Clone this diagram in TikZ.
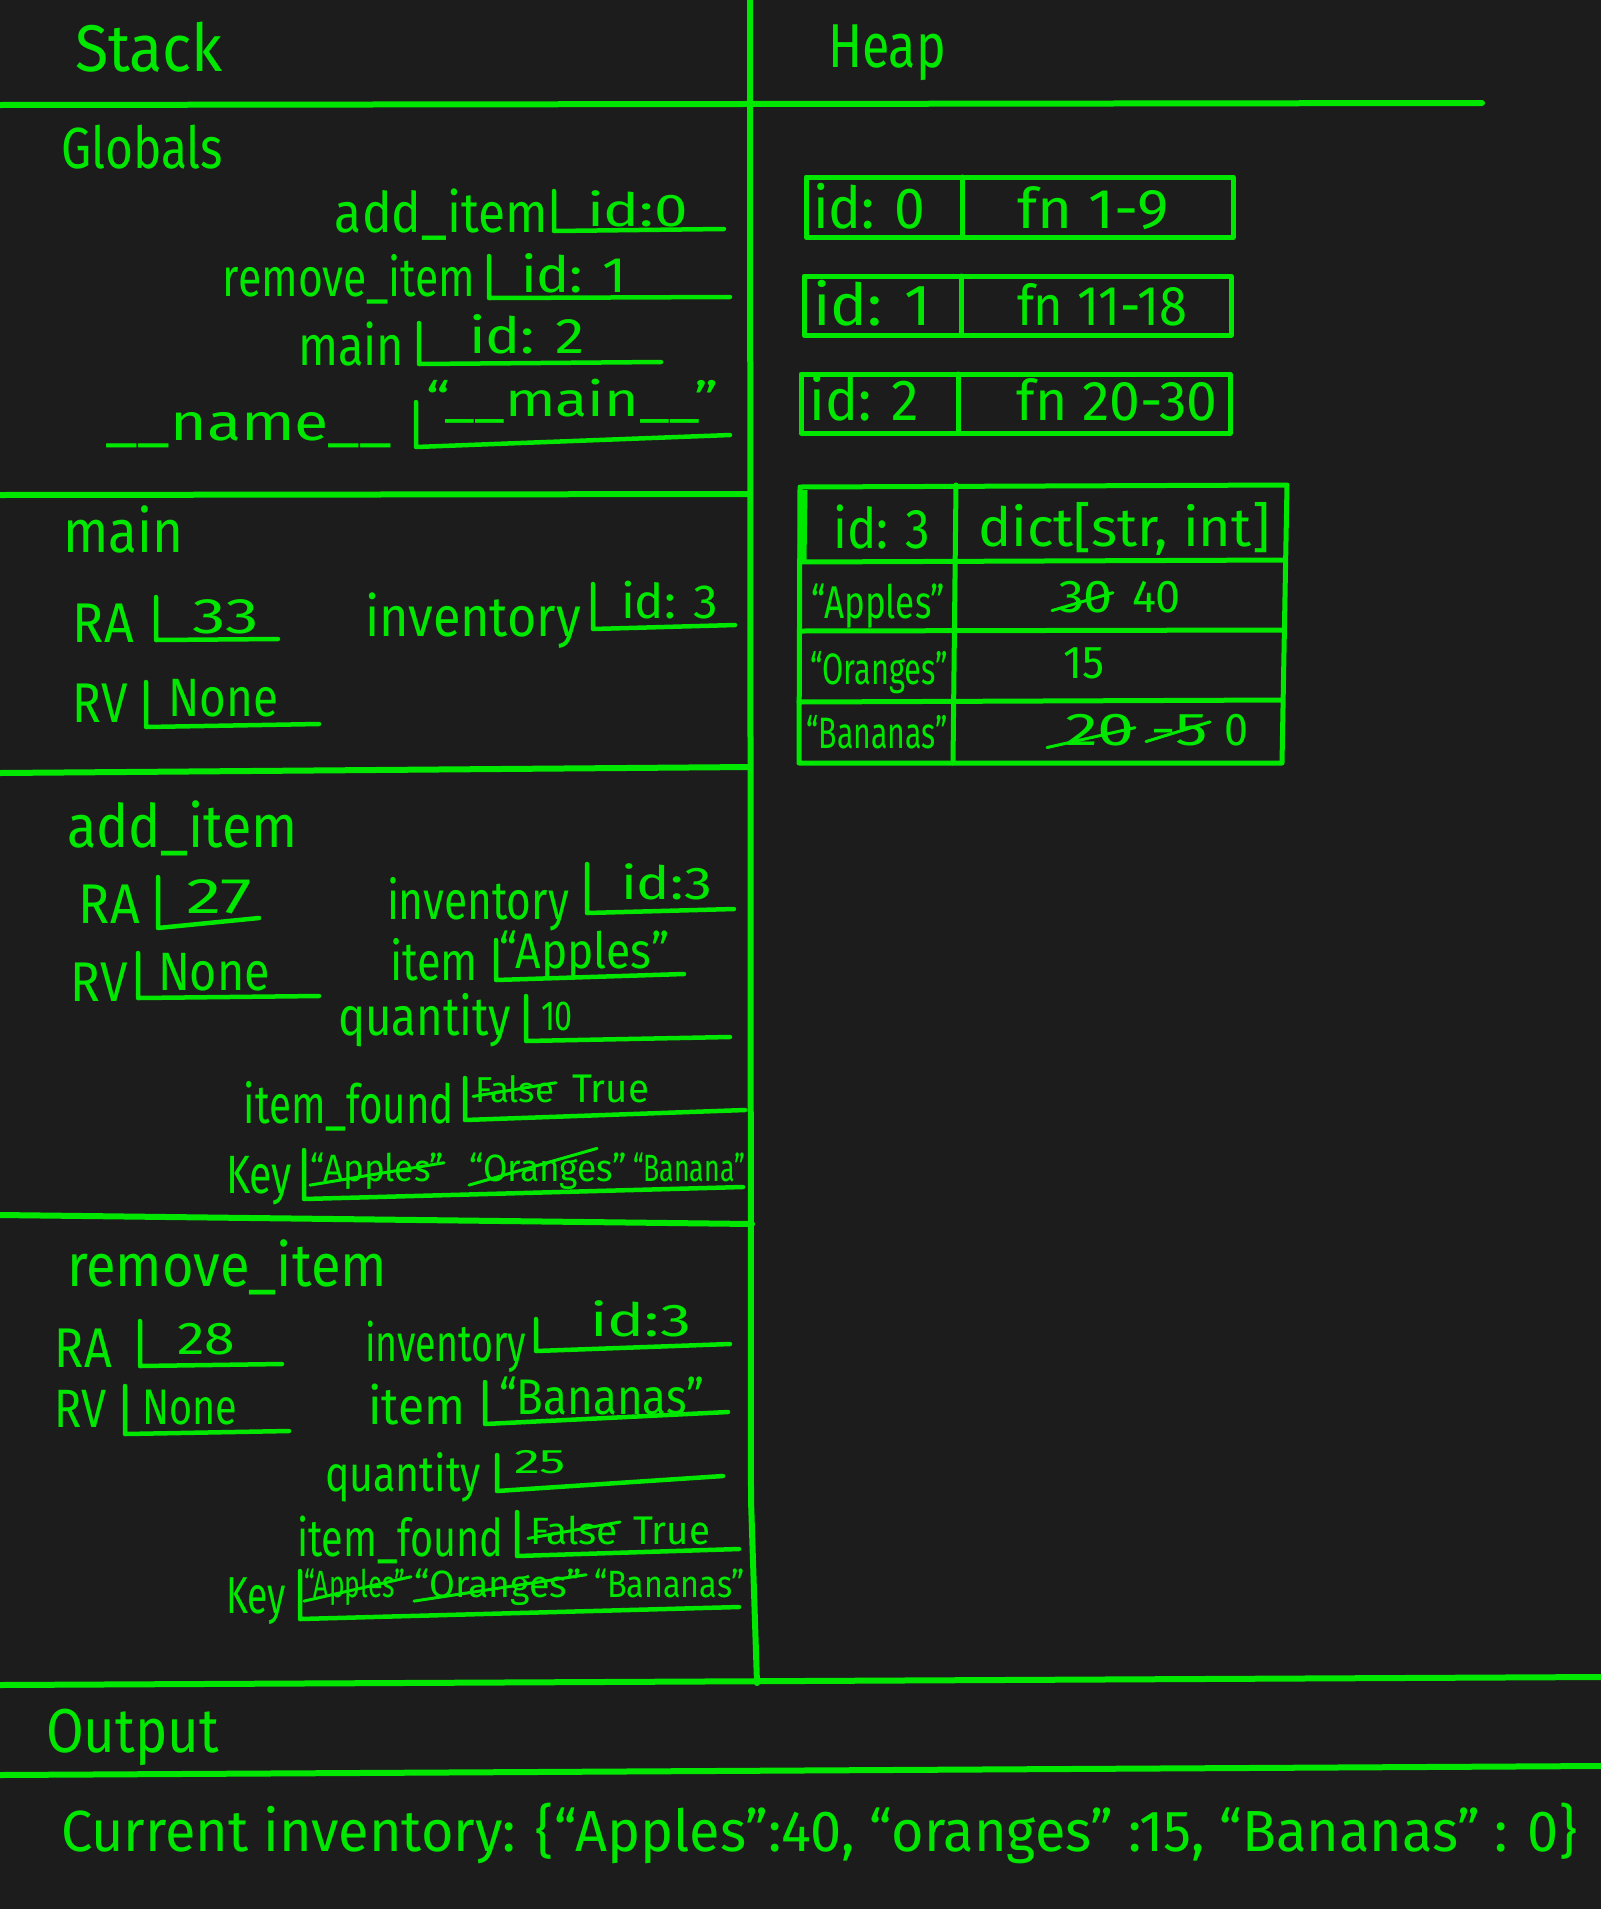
\documentclass[tikz,border=0pt]{standalone}
\usepackage{fontspec}
\setmainfont{Fira Sans}
\usepackage{graphicx}
\definecolor{hgreen}{RGB}{0,232,0}
\definecolor{bgc}{RGB}{28,28,28}
% text scaled to a target width (pt), font size (pt), text
\newcommand\hwt[3]{\resizebox{#1pt}{\height}{\fontsize{#2pt}{#2pt}\selectfont #3}}
\tikzset{
  txt/.style={inner sep=0pt, outer sep=0pt, text=hgreen},
  sect/.style={draw=hgreen, line width=6pt, line cap=round},
  slot/.style={draw=hgreen, line width=4.5pt, line cap=round, line join=round},
  cell/.style={draw=hgreen, line width=5pt, line join=round, line cap=round},
  strike/.style={draw=hgreen, line width=3pt, line cap=round},
  lab/.style={txt, anchor=base east},
  val/.style={txt, anchor=base west},
  ctr/.style={txt, anchor=base},
}
\begin{document}
\begin{tikzpicture}[x=1pt,y=-1pt]
\fill[bgc] (0,0) rectangle (1601,1909);
\useasboundingbox (0,0) rectangle (1601,1909);

% ---------- section lines ----------
\draw[sect] (0,105) -- (1482,103);
\draw[sect] (750,0) -- (751,1500) -- (757,1683);
\draw[sect] (0,495) -- (750,494);
\draw[sect] (0,773) -- (750,767);
\draw[sect] (0,1215) -- (752,1224);
\draw[sect] (0,1685) -- (1601,1677);
\draw[sect] (0,1775) -- (1601,1766);

% ---------- titles ----------
\node[val] (tStack) at (75,71) {\hwt{148}{66}{Stack}};
\node[val] (tHeap) at (828,67) {\hwt{118}{62}{Heap}};
\node[val] (tGlobals) at (61,168) {\hwt{162}{58}{Globals}};
\node[val] (tMain) at (63,552) {\hwt{120}{60}{main}};
\node[val] (tAdd) at (67,847) {\hwt{231}{60}{add\_item}};
\node[val] (tRemove) at (67,1286) {\hwt{320}{60}{remove\_item}};
\node[val] (tOutput) at (46,1752) {\hwt{173}{62}{Output}};

% ---------- Globals ----------
\node[lab] (gAddL) at (548,232) {\hwt{213}{56}{add\_item}};
\draw[slot] (554,191) -- (554,231) -- (724,229);
\node[val] (gAddV) at (587,226) {\hwt{101}{46}{id:0}};

\node[lab] (gRemL) at (475,296) {\hwt{252}{54}{remove\_item}};
\draw[slot] (489,256) -- (489,298) -- (730,297);
\node[val] (gRemV) at (521,292) {\hwt{106}{50}{id: 1}};

\node[lab] (gMainL) at (404,365) {\hwt{106}{56}{main}};
\draw[slot] (419,323) -- (419,364) -- (661,362);
\node[val] (gMainV) at (469,353) {\hwt{116}{50}{id: 2}};

\node[lab] (gNameL) at (392,440) {\hwt{286}{52}{\_\_name\_\_}};
\draw[slot] (416,402) -- (416,447) -- (730,435);
\node[val] (gNameV) at (426,416) {\hwt{292}{48}{“\_\_main\_\_”}};

% ---------- main frame ----------
\node[lab] (mRAL) at (134,642) {\hwt{61}{56}{RA}};
\draw[slot] (156,597) -- (156,640) -- (278,639);
\node[val] (mRAV) at (192,633) {\hwt{67}{50}{33}};

\node[lab] (mInvL) at (581,636) {\hwt{216}{56}{inventory}};
\draw[slot] (593,584) -- (593,629) -- (735,625);
\node[val] (mInvV) at (621,618) {\hwt{97}{48}{id: 3}};

\node[lab] (mRVL) at (128,722) {\hwt{55}{56}{RV}};
\draw[slot] (146,682) -- (146,727) -- (319,724);
\node[val] (mRVV) at (168,716) {\hwt{110}{54}{None}};

% ---------- add_item frame ----------
\node[lab] (aRAL) at (140,923) {\hwt{61}{56}{RA}};
\draw[slot] (158,877) -- (158,928) -- (259,918);
\node[val] (aRAV) at (186,913) {\hwt{66}{50}{27}};

\node[lab] (aRVL) at (128,1001) {\hwt{57}{56}{RV}};
\draw[slot] (138,953) -- (138,998) -- (319,996);
\node[val] (aRVV) at (158,990) {\hwt{112}{54}{None}};

\node[lab] (aInvL) at (569,919) {\hwt{182}{54}{inventory}};
\draw[slot] (587,864) -- (587,913) -- (734,909);
\node[val] (aInvV) at (621,899) {\hwt{91}{46}{id:3}};

\node[lab] (aItemL) at (478,980) {\hwt{88}{54}{item}};
\draw[slot] (496,940) -- (496,980) -- (684,974);
\node[val] (aItemV) at (499,968) {\hwt{170}{50}{“Apples”}};

\node[lab] (aQtyL) at (511,1035) {\hwt{173}{54}{quantity}};
\draw[slot] (526,996) -- (526,1041) -- (730,1037);
\node[val] (aQtyV) at (541,1030) {\hwt{32}{42}{10}};

\node[lab] (aFoundL) at (454,1123) {\hwt{210}{54}{item\_found}};
\draw[slot] (465,1078) -- (465,1120) -- (745,1110);
\node[val] (aFoundF) at (475,1102) {\hwt{79}{36}{False}};
\draw[strike] ([xshift=-2pt,yshift=6pt]aFoundF.south west) -- ([xshift=2pt,yshift=6pt]aFoundF.east);
\node[val] (aFoundT) at (572,1102) {\hwt{77}{40}{True}};

\node[lab] (aKeyL) at (292,1193) {\hwt{66}{54}{Key}};
\draw[slot] (304,1150) -- (304,1199) -- (743,1187);
\node[val] (aKey1) at (310,1181) {\hwt{134}{38}{“Apples”}};
\draw[strike] ([yshift=4pt]aKey1.south west) -- ([yshift=8pt]aKey1.east);
\node[val] (aKey2) at (469,1181) {\hwt{158}{38}{“Oranges”}};
\draw[strike] ([yshift=4pt]aKey2.south west) -- ([xshift=-30pt,yshift=4pt]aKey2.north east);
\node[val] (aKey3) at (633,1181) {\hwt{112}{38}{“Banana”}};

% ---------- remove_item frame ----------
\node[lab] (rRAL) at (112,1367) {\hwt{57}{56}{RA}};
\draw[slot] (140,1321) -- (140,1366) -- (282,1364);
\node[val] (rRAV) at (177,1354) {\hwt{58}{46}{28}};

\node[lab] (rRVL) at (107,1427) {\hwt{52}{54}{RV}};
\draw[slot] (125,1386) -- (125,1434) -- (289,1431);
\node[val] (rRVV) at (142,1424) {\hwt{95}{50}{None}};

\node[lab] (rInvL) at (526,1361) {\hwt{161}{52}{inventory}};
\draw[slot] (536,1319) -- (536,1351) -- (730,1344);
\node[val] (rInvV) at (590,1336) {\hwt{101}{46}{id:3}};

\node[lab] (rItemL) at (465,1424) {\hwt{97}{52}{item}};
\draw[slot] (485,1382) -- (485,1424) -- (728,1412);
\node[val] (rItemV) at (499,1414) {\hwt{205}{50}{“Bananas”}};

\node[lab] (rQtyL) at (481,1491) {\hwt{156}{50}{quantity}};
\draw[slot] (497,1455) -- (497,1491) -- (723,1476);
\node[val] (rQtyV) at (514,1473) {\hwt{52}{34}{25}};

\node[lab] (rFoundL) at (503,1556) {\hwt{206}{52}{item\_found}};
\draw[slot] (517,1512) -- (517,1556) -- (739,1549);
\node[val] (rFoundF) at (530,1544) {\hwt{88}{38}{False}};
\draw[strike] ([xshift=-2pt,yshift=6pt]rFoundF.south west) -- ([xshift=2pt,yshift=8pt]rFoundF.east);
\node[val] (rFoundT) at (633,1544) {\hwt{77}{40}{True}};

\node[lab] (rKeyL) at (286,1613) {\hwt{60}{52}{Key}};
\draw[slot] (300,1571) -- (300,1619) -- (739,1607);
\node[val] (rKey1) at (304,1597) {\hwt{101}{38}{“Apples”}};
\draw[strike] ([yshift=4pt]rKey1.south west) -- ([xshift=6pt,yshift=10pt]rKey1.east);
\node[val] (rKey2) at (414,1597) {\hwt{168}{38}{“Oranges”}};
\draw[strike] ([yshift=4pt]rKey2.south west) -- ([xshift=4pt,yshift=12pt]rKey2.east);
\node[val] (rKey3) at (594,1597) {\hwt{151}{38}{“Bananas”}};

% ---------- Heap: function objects ----------
\draw[cell] (806,177) rectangle (1233,237);
\draw[cell] (962,177) -- (962,237);
\node[ctr] (h0id) at (869,228) {\hwt{112}{58}{id: 0}};
\node[ctr] (h0fn) at (1093,228) {\hwt{152}{56}{fn 1-9}};

\draw[cell] (804,276) rectangle (1231,335);
\draw[cell] (961,276) -- (961,335);
\node[ctr] (h1id) at (872,325) {\hwt{118}{58}{id: 1}};
\node[ctr] (h1fn) at (1102,325) {\hwt{170}{56}{fn 11-18}};

\draw[cell] (801,374) rectangle (1230,433);
\draw[cell] (958,374) -- (958,433);
\node[ctr] (h2id) at (864,420) {\hwt{109}{58}{id: 2}};
\node[ctr] (h2fn) at (1117,420) {\hwt{201}{56}{fn 20-30}};

% ---------- Heap: dict ----------
\draw[cell] (800,487) -- (1287,485) -- (1282,763) -- (799,763) -- cycle;
\draw[cell] (800,562) -- (1285,560);
\draw[cell] (800,631) -- (1283,630);
\draw[cell] (799,702) -- (1282,700);
\draw[cell] (956,485) -- (953,763);
\draw[draw=hgreen, line width=9pt] (803,490) -- (802,562);

\node[ctr] (dId) at (882,548) {\hwt{97}{56}{id: 3}};
\node[ctr] (dType) at (1124,546) {\hwt{292}{54}{dict[str, int]}};

\node[ctr] (dK1) at (878,618) {\hwt{134}{46}{“Apples”}};
\node[val] (dV1a) at (1058,612) {\hwt{55}{46}{30}};
\draw[strike] ([xshift=-6pt,yshift=2pt]dV1a.south west) -- ([yshift=4pt]dV1a.east);
\node[val] (dV1b) at (1132,612) {\hwt{49}{46}{40}};

\node[ctr] (dK2) at (879,684) {\hwt{138}{44}{“Oranges”}};
\node[val] (dV2) at (1063,678) {\hwt{41}{46}{15}};

\node[ctr] (dK3) at (877,748) {\hwt{141}{44}{“Bananas”}};
\node[val] (dV3a) at (1065,745) {\hwt{70}{46}{20}};
\draw[strike] ([xshift=-18pt,yshift=-2pt]dV3a.south west) -- ([yshift=2pt]dV3a.east);
\node[val] (dV3b) at (1150,745) {\hwt{58}{46}{-5}};
\draw[strike] ([xshift=-4pt,yshift=4pt]dV3b.south west) -- ([xshift=2pt,yshift=8pt]dV3b.east);
\node[val] (dV3c) at (1224,745) {\hwt{24}{46}{0}};

% ---------- Output ----------
\node[val] (outText) at (61,1851) {\hwt{1516}{58}{Current inventory: \{“Apples”:40, “oranges” :15, “Bananas” : 0\}}};

\end{tikzpicture}
\end{document}
